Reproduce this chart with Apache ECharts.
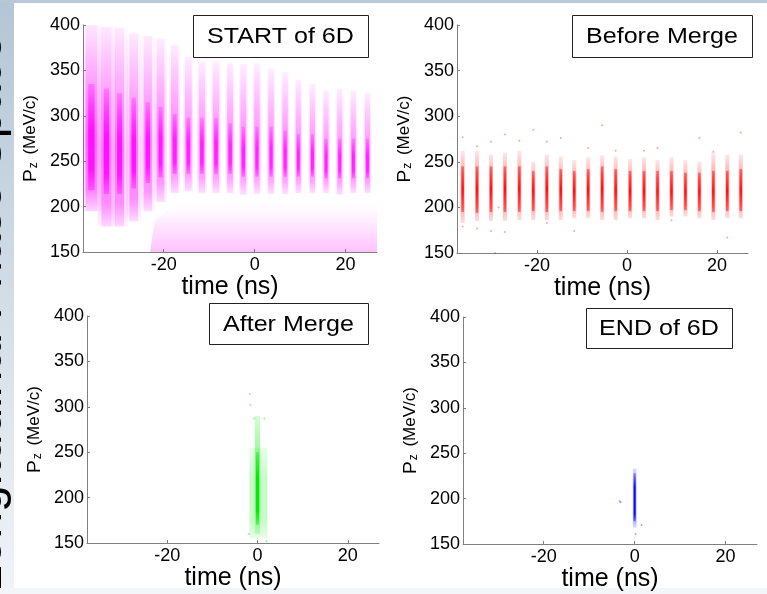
<!DOCTYPE html>
<html><head><meta charset="utf-8">
<script src="https://cdn.jsdelivr.net/npm/echarts@6/dist/echarts.min.js"></script>
<style>html,body{margin:0;padding:0;background:#fff}#c{width:767px;height:594px}</style>
</head><body><div id="c"></div>
<script>
// ================= DATA =================
const slideTitle = 'Longitudinal Phase Space';
const panelTitles = ['START of 6D', 'Before Merge', 'After Merge', 'END of 6D'];
const xTicks = [-20, 0, 20];
const timeRange = [-37.75, 26.9];
const pzRange = [150, 400];

// START of 6D : 21 bunches
const startT        = [-35.9, -32.6, -29.7, -26.6, -23.5, -20.7, -17.6, -14.6, -11.6, -8.5, -5.4, -2.5, 0.5, 3.6, 6.7, 9.6, 12.7, 15.7, 18.7, 21.7, 24.8];
const startWideW    = [2.3, 2.0, 1.8, 1.6, 1.5, 1.35, 1.2, 1.1, 1.05, 1.0, 1.0, 0.95, 0.95, 0.9, 0.9, 0.85, 0.85, 0.85, 0.85, 0.85, 0.85];
const startHalfW    = [1.3, 1.1, 1.0, 0.95, 0.9, 0.85, 0.8, 0.75, 0.7, 0.7, 0.65, 0.65, 0.6, 0.6, 0.6, 0.55, 0.55, 0.55, 0.55, 0.55, 0.55];
const startTop      = [400, 398, 397, 391, 388, 385, 378, 365, 360, 360, 358, 357, 358, 352, 348, 340, 335, 328, 330, 328, 325];
const startBottom   = [195, 178, 178, 184, 195, 205, 215, 217, 215, 215, 215, 213, 214, 214, 214, 215, 215, 215, 213, 215, 215];
const startAlpha    = [0.5, 0.46, 0.45, 0.44, 0.42, 0.4, 0.38, 0.36, 0.36, 0.36, 0.36, 0.36, 0.36, 0.36, 0.36, 0.36, 0.36, 0.36, 0.36, 0.36, 0.36];
const startCoreHalfW= [0.7, 0.6, 0.55, 0.5, 0.5, 0.45, 0.45, 0.4, 0.4, 0.4, 0.38, 0.38, 0.35, 0.35, 0.35, 0.33, 0.33, 0.33, 0.33, 0.33, 0.33];
const startCoreTop  = [335, 330, 325, 320, 315, 310, 302, 298, 298, 298, 292, 288, 288, 288, 284, 280, 280, 275, 275, 275, 275];
const startCoreBot  = [218, 214, 214, 220, 226, 232, 236, 236, 236, 236, 236, 233, 233, 233, 233, 233, 233, 231, 231, 231, 231];
const startCoreAlpha= [0.85, 0.85, 0.82, 0.82, 0.8, 0.8, 0.78, 0.76, 0.76, 0.76, 0.76, 0.74, 0.74, 0.74, 0.74, 0.74, 0.74, 0.74, 0.74, 0.74, 0.74];
// low-momentum tail (outline of sparse region)
const startTailT  = [-23, -22, -18, -14, -5, 5, 15, 26.9, 26.9];
const startTailPz = [150, 185, 200, 207, 205, 205, 207, 210, 150];

// Before Merge : 21 bunches
const beforeT       = [-36.5, -33.3, -30.2, -27.1, -23.9, -20.8, -17.8, -14.7, -11.7, -8.6, -5.5, -2.5, 0.7, 3.8, 6.8, 9.9, 13.0, 16.1, 19.2, 22.3, 25.3];
const beforeTop     = [262, 262, 258, 260, 262, 250, 258, 256, 252, 255, 257, 256, 253, 255, 252, 255, 252, 250, 260, 258, 258];
const beforeBottom  = [183, 185, 185, 185, 186, 186, 186, 186, 188, 188, 186, 186, 188, 188, 186, 190, 190, 188, 186, 188, 188];
const beforeCoreTop = [245, 245, 245, 245, 245, 240, 245, 242, 240, 242, 245, 242, 240, 240, 240, 240, 238, 238, 240, 240, 242];
const beforeCoreBot = [195, 194, 195, 195, 195, 196, 195, 196, 196, 196, 195, 196, 196, 196, 196, 197, 197, 196, 195, 196, 196];
const beforeOutT  = [-36.5, -33.3, -30.2, -27.1, -23.9, -20.8, -17.8, -14.7, -8.6, -5.5, -2.5, 3.8, 6.8, 16.1, 19.2, 25.3, -36.5, -33.3, -30.2, -28.5, -27.1, -11.7, 22.3, -29.3, 9.9, -17.8];
const beforeOutPz = [277, 267, 272, 280, 273, 285, 272, 276, 265, 290, 262, 262, 265, 276, 261, 282, 179, 177, 174, 200, 173, 174, 167, 150, 186, 183];

// After Merge : one bunch, three density layers
const afterT     = [0.2, 0.0, 0.0];
const afterHalfW = [2.0, 0.6, 0.33];
const afterLo    = [155, 160, 170];
const afterHi    = [255, 290, 250];
const afterAlpha = [0.22, 0.4, 0.95];
const afterOutT  = [-1.7, -1.6, 2.0, -1.9, 1.5, -0.7];
const afterOutPz = [314, 302, 152, 160, 287, 287];

// END of 6D : one bunch
const endT     = [0.0, 0.0];
const endHalfW = [0.4, 0.22];
const endLo    = [168, 175];
const endHi    = [233, 228];
const endAlpha = [0.35, 0.95];
const endOutT  = [-3.3, -3.1, 0.2, 1.5];
const endOutPz = [197, 196, 161, 171];

// ================= CHART =================
const FONT = '"Liberation Sans", Arial, sans-serif';
const chart = echarts.init(document.getElementById('c'), null, {renderer: 'canvas'});

const grids = [
  {left: 83, top: 25, width: 294, height: 227},
  {left: 457, top: 25, width: 291, height: 228},
  {left: 87, top: 316, width: 292, height: 227},
  {left: 463, top: 317, width: 294, height: 227}
];
const boxes = [
  {x: 193, y: 15, w: 175, h: 42},
  {x: 572, y: 15, w: 180, h: 42},
  {x: 209, y: 303, w: 159, h: 41},
  {x: 586, y: 308, w: 146, h: 40}
];

function rgba(c, a) { return 'rgba(' + c + ',' + Math.max(0, Math.min(1, a)).toFixed(3) + ')'; }

function bandSeries(gi, items, col, stops, z) {
  return {
    type: 'custom', xAxisIndex: gi, yAxisIndex: gi, clip: true, z: z || 2,
    silent: true,
    data: items,
    renderItem: function (params, api) {
      const t = api.value(0), hw = api.value(1), lo = api.value(2), hi = api.value(3), a = api.value(4);
      const p1 = api.coord([t - hw, hi]);
      const p2 = api.coord([t + hw, lo]);
      return {
        type: 'rect',
        shape: {x: p1[0], y: p1[1], width: Math.max(1, p2[0] - p1[0]), height: p2[1] - p1[1]},
        style: {fill: new echarts.graphic.LinearGradient(0, 0, 0, 1,
          stops.map(s => ({offset: s[0], color: rgba(col, a * s[1])})))}
      };
    }
  };
}

function zip(arrs) { return arrs[0].map((_, i) => arrs.map(a => a[i])); }

const MAG = '255,0,255', RED = '255,0,0', GRN = '0,235,0', BLU = '0,0,255';

const series = [];
// START
series.push({
  type: 'custom', xAxisIndex: 0, yAxisIndex: 0, clip: true, silent: true, z: 1,
  data: [0],
  renderItem: function (params, api) {
    const pts = startTailT.map((t, i) => api.coord([t, startTailPz[i]]));
    return {type: 'polygon', shape: {points: pts},
      style: {fill: new echarts.graphic.LinearGradient(0, 0, 0, 1, [
        {offset: 0, color: rgba(MAG, 0.0)}, {offset: 0.25, color: rgba(MAG, 0.02)},
        {offset: 0.6, color: rgba(MAG, 0.12)}, {offset: 1, color: rgba(MAG, 0.24)}])}};
  }
});
series.push(bandSeries(0, zip([startT, startWideW, startBottom, startTop, startAlpha.map(a => a * 0.42)]), MAG,
  [[0, 0.1], [0.35, 0.7], [0.65, 1], [0.9, 0.7], [1, 0.2]], 2));
series.push(bandSeries(0, zip([startT, startHalfW, startBottom, startTop, startAlpha]), MAG,
  [[0, 0.15], [0.3, 0.55], [0.6, 1], [0.88, 0.8], [1, 0.25]], 2));
series.push(bandSeries(0, zip([startT, startCoreHalfW, startCoreBot, startCoreTop, startCoreAlpha]), MAG,
  [[0, 0.3], [0.45, 1], [0.8, 1], [1, 0.4]], 3));
// BEFORE
series.push(bandSeries(1, zip([beforeT, beforeT.map(() => 0.45), beforeBottom, beforeTop, beforeT.map(() => 0.32)]), RED,
  [[0, 0.3], [0.3, 1], [0.8, 1], [1, 0.4]], 2));
series.push(bandSeries(1, zip([beforeT, beforeT.map(() => 0.28), beforeCoreBot, beforeCoreTop, beforeT.map(() => 0.9)]), RED,
  [[0, 0.5], [0.5, 1], [1, 0.5]], 3));
series.push({type: 'scatter', xAxisIndex: 1, yAxisIndex: 1, symbolSize: 2, silent: true,
  itemStyle: {color: rgba(RED, 0.45)}, data: zip([beforeOutT, beforeOutPz]), z: 4});
// AFTER
series.push(bandSeries(2, zip([afterT, afterHalfW, afterLo, afterHi, afterAlpha]), GRN,
  [[0, 0.4], [0.35, 1], [0.8, 1], [1, 0.4]], 2));
series.push({type: 'scatter', xAxisIndex: 2, yAxisIndex: 2, symbolSize: 2, silent: true,
  itemStyle: {color: rgba(GRN, 0.55)}, data: zip([afterOutT, afterOutPz]), z: 4});
// END
series.push(bandSeries(3, zip([endT, endHalfW, endLo, endHi, endAlpha]), BLU,
  [[0, 0.4], [0.3, 1], [0.85, 1], [1, 0.4]], 2));
series.push({type: 'scatter', xAxisIndex: 3, yAxisIndex: 3, symbolSize: 2, silent: true,
  itemStyle: {color: rgba(BLU, 0.45)}, data: zip([endOutT, endOutPz]), z: 4});

const axisCol = '#808080';
const xAxes = grids.map((g, i) => ({
  gridIndex: i, type: 'value', min: timeRange[0], max: timeRange[1],
  axisLine: {show: true, onZero: false, lineStyle: {color: axisCol, width: 1}},
  splitLine: {show: false},
  axisTick: {show: true, inside: true, length: 3, customValues: xTicks, lineStyle: {color: axisCol}},
  axisLabel: {customValues: xTicks, color: '#000', fontSize: 18, margin: 4, fontFamily: FONT},
  name: 'time (ns)', nameLocation: 'middle', nameGap: 18,
  nameTextStyle: {color: '#000', fontSize: 25, fontFamily: FONT, verticalAlign: 'top'}
}));
const yAxes = grids.map((g, i) => ({
  gridIndex: i, type: 'value', min: pzRange[0], max: pzRange[1], interval: 50,
  axisLine: {show: true, onZero: false, lineStyle: {color: axisCol, width: 1}},
  splitLine: {show: false},
  axisTick: {show: true, inside: true, length: 3, lineStyle: {color: axisCol}},
  axisLabel: {color: '#000', fontSize: 18, margin: 3, fontFamily: FONT},
  name: '{p|P}{z|z}{m| (MeV/c)}', nameLocation: 'middle', nameGap: 43,
  nameTextStyle: {color: '#000', fontFamily: FONT,
    rich: {
      p: {fontSize: 19, fontFamily: FONT, color: '#000', lineHeight: 22, verticalAlign: 'bottom'},
      z: {fontSize: 12, fontFamily: FONT, color: '#000', lineHeight: 22, verticalAlign: 'bottom', padding: [0, 3, 0, 1]},
      m: {fontSize: 17, fontFamily: FONT, color: '#000', lineHeight: 22, verticalAlign: 'bottom', padding: [0, 0, 1, 0]}
    }}
}));

const graphics = [
  {type: 'rect', shape: {x: 0, y: 0, width: 14, height: 594}, silent: true, z: 0,
    style: {fill: new echarts.graphic.LinearGradient(0, 0, 0, 1, [{offset: 0, color: '#b3c6d5'}, {offset: 1, color: '#f1f4f7'}])}},
  {type: 'rect', shape: {x: 0, y: 0, width: 767, height: 3}, silent: true, z: 0, style: {fill: '#b6c8d6'}},
  {type: 'rect', shape: {x: 0, y: 588, width: 767, height: 6}, silent: true, z: 0, style: {fill: '#f3f5f8'}},
  {type: 'text', x: 12, y: 592, rotation: Math.PI / 2, silent: true, z: 1,
    style: {text: slideTitle, font: '48px ' + FONT, fill: '#000', align: 'left', verticalAlign: 'bottom'}}
];
boxes.forEach((b, i) => {
  graphics.push({type: 'rect', shape: {x: b.x + 0.5, y: b.y + 0.5, width: b.w, height: b.h}, z: 10, silent: true,
    style: {fill: '#fff', stroke: '#222', lineWidth: 1}});
  graphics.push({type: 'text', x: b.x + b.w / 2, y: b.y + b.h / 2 + 1, scaleX: 1.14, z: 11, silent: true,
    style: {text: panelTitles[i], font: '22px ' + FONT, fill: '#000', align: 'center', verticalAlign: 'middle'}});
});

chart.setOption({
  backgroundColor: '#fff',
  animation: false,
  grid: grids,
  xAxis: xAxes,
  yAxis: yAxes,
  series: series,
  graphic: graphics
});
</script>
</body></html>
